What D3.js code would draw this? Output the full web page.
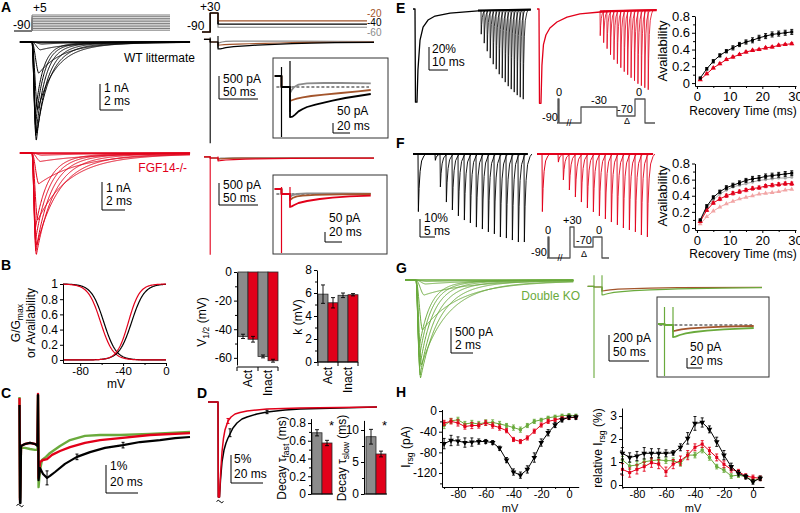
<!DOCTYPE html>
<html><head><meta charset="utf-8">
<script src="https://cdn.jsdelivr.net/npm/d3@7/dist/d3.min.js"></script>
<style>html,body{margin:0;padding:0;background:#fff;}svg{display:block;}</style>
</head><body>
<svg id="fig" width="800" height="513" xmlns="http://www.w3.org/2000/svg"></svg>
<script>
// ================= DATA =================
// A / G : step families
const testV=[-85,-75,-65,-55,-45,-35,-25,-15,-5,5];
const wtPeak=[0.03,0.08,0.3,1.2,2.6,3.5,3.8,3.6,3.2,2.8];          // nA
const koPeak=[0.03,0.08,0.3,1.1,2.4,3.3,3.64,3.5,3.1,2.7];         // nA
const dkoPeak=[30,80,300,1000,1700,1960,1900,1750,1550,1350];      // pA
const timeToPeak=[1.0,0.9,0.75,0.6,0.5,0.42,0.38,0.34,0.31,0.29];  // ms
const wtTau=[3.0,2.8,2.5,2.0,1.5,1.1,0.9,0.77,0.68,0.62];          // ms
const koTau=[5.0,4.6,4.2,3.4,2.6,1.9,1.5,1.28,1.15,1.04];
const dkoTau=[4.6,4.2,3.8,3.1,2.3,1.65,1.36,1.15,1.02,0.94];
// resurgent protocol levels
const resLevels=[-60,-40,-20];
// resurgent traces [ms after repolarization, pA]
const wtPre=[[-18,55],[-10,55],[-10,0],[0,0]];
const wtResGray=[[0,-30],[2,-15],[5,0],[10,12],[20,18],[40,20],[60,20],[95,18],[150,12],[200,8]];
const wtResBrown=[[0,-70],[3,-65],[8,-58],[15,-52],[25,-45],[40,-38],[60,-30],[80,-22],[95,-15],[120,-10],[150,-6],[200,-3]];
const wtResBlack=[[0,-150],[3,-148],[6,-138],[10,-122],[15,-110],[20,-100],[30,-88],[40,-78],[50,-68],[65,-55],[80,-45],[95,-35],[120,-25],[150,-15],[200,-8]];
const wtSpikes=[[-10,100,-2200],[0,130,-125]];
const koPre=[[-18,25],[-10,25],[-10,0],[0,0]];
const koResGray=[[0,-15],[3,-5],[8,0],[20,3],[60,3],[95,2],[200,0]];
const koResBrown=[[0,-30],[3,-20],[8,-12],[15,-8],[30,-4],[60,-2],[95,0],[200,0]];
const koResRed=[[0,-65],[2,-62],[5,-55],[10,-45],[20,-35],[35,-25],[50,-18],[70,-12],[95,-8],[150,-4],[200,-2]];
const koSpikes=[[-10,35,-2200],[0,35,-30]];
const dkoPre=[[-18,5],[-10,5],[-10,0],[0,0]];
const dkoResBrown=[[0,-30],[3,-28],[10,-22],[20,-17],[40,-12],[60,-8],[95,-5],[200,-2]];
const dkoResGreen=[[0,-60],[3,-58],[8,-50],[15,-42],[25,-35],[40,-28],[60,-22],[80,-18],[95,-15],[150,-8],[200,-5]];
const dkoSpikes=[[-10,90,-700],[0,90,-35]];
// B
const bFitV12=[-32,-35,-58,-61];   // act WT, act KO, inact WT, inact KO
const bFitK=[5.9,5.2,5.8,5.8];
const bCats=["Act WT","Act KO","Inact WT","Inact KO"];
const bGroups=["Act","Inact"];
const v12Mean=[-45,-47,-59,-62];
const v12Err=[1.5,2,1,1];
const kMean=[5.9,5.15,5.8,5.85];
const kErr=[0.8,0.45,0.2,0.1];
// C : normalized traces [ms, %]
const cBlack=[[-0.31,0.89],[0,-2.61],[0.31,-2.61],[0.63,-0.57],[3.1,-0.5],[6.25,-0.46],[9.4,-0.5],[10.9,-0.57],[11.25,1.25],[11.6,-1.79],[12.5,-1.36],[14.4,-1.57],[16.9,-1.71],[18.75,-1.64],[21.9,-1.5],[28.1,-1.21],[35.6,-0.96],[43.75,-0.79],[53.1,-0.64],[64.4,-0.54],[75,-0.43],[87.5,-0.36],[96.9,-0.29],[106.25,-0.25]];
const cRed=[[-0.31,1.14],[0,-2.5],[0.63,-0.57],[3.1,-0.5],[6.25,-0.46],[9.4,-0.5],[10.9,-0.54],[11.25,1.29],[11.6,-1.71],[12.5,-1.14],[14.4,-1.07],[16.9,-1.04],[20,-0.89],[25,-0.75],[31.25,-0.61],[40.6,-0.46],[50,-0.36],[62.5,-0.29],[81.25,-0.18],[106.25,-0.11]];
const cGreen=[[-0.31,1.18],[0,-2.43],[0.63,-0.64],[3.1,-0.64],[6.25,-0.68],[9.4,-0.71],[10.9,-0.71],[11.25,1.25],[11.6,-2.04],[12.5,-1.43],[13.75,-1.07],[16.25,-0.96],[18.75,-0.82],[25,-0.57],[31.25,-0.36],[40.6,-0.21],[50,-0.18],[62.5,-0.18],[81.25,-0.14],[106.25,-0.07]];
const cErrT=[16.9,35.6,64.4], cErrV=[-1.71,-0.96,-0.54], cErrE=[0.25,0.1,0.1];
// D
const dBlack=[[0,0.89],[6.25,0.89],[6.44,-16.07],[7.19,-16.07],[7.81,-13.04],[8.75,-9.82],[10,-7.68],[11.25,-6.43],[12.5,-5.54],[13.75,-4.82],[15.6,-3.75],[18.1,-2.86],[21.25,-2.14],[24.4,-1.79],[30.6,-1.25],[36.9,-0.89],[48.1,-0.54],[57.5,-0.36],[76.25,-0.23],[105.6,0]];
const dRed=[[0,0.89],[6.25,0.89],[6.44,-16.07],[7.19,-16.07],[7.81,-12.14],[8.75,-8.04],[9.69,-5.54],[10.6,-4.11],[12.5,-2.5],[14.4,-1.79],[16.9,-1.25],[20,-0.98],[24.4,-0.71],[30.6,-0.54],[36.9,-0.36],[57.5,-0.18],[105.6,0]];
const dErrBlack=[[13.75,-4.6,0.7],[36.9,-0.89,0.3]];
const dErrRed=[[12.5,-2.5,0.45]];
const tauCats=["WT","FGF14-/-"];
const tauFast=[0.69,0.575], tauFastErr=[0.035,0.03];
const tauSlow=[8.95,6.25], tauSlowErr=[1.15,0.45];
// E / F
const recT=[1,3,5,7,9,11,13,15,17,19,21,23,25,27,29];
const eAvBlack=[0.06,0.17,0.26,0.33,0.38,0.42,0.46,0.49,0.51,0.54,0.56,0.58,0.59,0.60,0.61];
const eAvBlackErr=[0.01,0.015,0.02,0.02,0.02,0.025,0.025,0.025,0.03,0.03,0.03,0.03,0.03,0.03,0.03];
const eAvRed=[0.04,0.11,0.18,0.23,0.28,0.31,0.34,0.37,0.39,0.40,0.42,0.43,0.45,0.46,0.47];
const eAvRedErr=[0.008,0.01,0.01,0.01,0.012,0.012,0.012,0.012,0.012,0.012,0.012,0.012,0.012,0.012,0.012];
const fAvBlack=[0.10,0.27,0.38,0.45,0.50,0.53,0.56,0.59,0.61,0.62,0.64,0.65,0.66,0.67,0.68];
const fAvBlackErr=[0.01,0.02,0.02,0.02,0.025,0.025,0.025,0.025,0.03,0.03,0.03,0.03,0.03,0.03,0.03];
const fAvGray=[0.08,0.25,0.35,0.42,0.47,0.51,0.53,0.55,0.57,0.59,0.60,0.61,0.62,0.62,0.63];
const fAvRed=[0.08,0.22,0.31,0.36,0.40,0.43,0.45,0.47,0.49,0.50,0.52,0.53,0.54,0.55,0.55];
const fAvRedErr=[0.01,0.015,0.015,0.02,0.02,0.02,0.02,0.02,0.02,0.02,0.02,0.02,0.02,0.02,0.02];
const fAvPink=[0.05,0.14,0.21,0.26,0.30,0.33,0.36,0.38,0.40,0.42,0.43,0.44,0.45,0.47,0.48];
const eRecBlack=[[0,0],[1.05,0],[1.3,-81],[2.1,-81],[2.6,-53],[3.7,-27],[5.3,-15.7],[7.9,-9.6],[11.6,-6.1],[19.5,-3.5],[34.2,-1.7],[45,-0.9],[62,-0.5]];
const eRecRed=[[0,0],[1.05,0],[1.3,-82],[2.1,-82],[2.6,-49],[3.4,-31],[4.7,-22.6],[6.8,-16.5],[10.5,-11.3],[15.8,-7],[22.6,-4.3],[33.2,-2.6],[45,-1.5],[63,-0.8]];
const eBlackDepth=[20.9,28.7,35.7,41.7,47,51.3,55.7,59.1,62.6,66.1,68.7,71.3,73.9,75.7,77.4];
const eRedDepth=[21.7,27.8,33,38.3,42.6,46.1,49.6,53,55.7,58.3,60.9,63.5,65.2,67,68.7];
const fBlackDepth=[18.3,26.7,31.1,34.4,36.7,38.3,40.6,41.7,43.3,44.4,46.1,46.7,47.8,48.9,48.9];
const fRedDepth=[14.4,20,23.9,26.7,30,32.2,34.4,36.1,37.8,39.4,41.1,42.2,43.3,45,46.1];
const fBlackPre=[[1.67,32],[7.33,3.5]];
const fRedPre=[[1.67,32],[7,4.5]];
const spikeShape=[[0,0],[0.12,-1],[0.35,-0.6],[0.7,-0.3],[1.2,-0.12],[2,-0.03],[2.6,0]];
const eProtoT=[0,1,1,2,2,24,24,60,60,78,78,88,88,98];
const eProtoV=[-90,-90,0,0,-90,-90,-30,-30,-70,-70,0,0,-90,-90];
const fProtoT=[0,1,1,2,2,23,23,27,27,46,46,55,55,62];
const fProtoV=[-90,-90,0,0,-90,-90,30,30,-70,-70,0,0,-90,-90];
// H
const hV=[-90,-85,-80,-75,-70,-65,-60,-55,-50,-45,-40,-35,-30,-25,-20,-15,-10,-5,0,5];
const hLBlack=[-63,-57,-58,-61,-60,-59,-59,-61,-72,-95,-118,-124,-113,-90,-61,-42,-27,-17,-12,-12];
const hLBlackErr=[10,10,8,9,8,5,4,4,4,5,6,6,7,9,7,6,5,4,4,4];
const hLRed=[-23,-20,-23,-30,-28,-28,-23,-28,-32,-38,-55,-59,-52,-39,-27,-20,-17,-14,-13,-12];
const hLRedErr=[5,5,6,5,6,5,5,5,5,4,4,4,4,4,4,4,3,3,3,3];
const hLGreen=[-28,-19,-17,-25,-23,-25,-22,-22,-25,-28,-32,-36,-28,-20,-17,-13,-11,-9,-8,-9];
const hLGreenErr=[6,5,5,5,5,5,5,5,5,4,5,5,4,4,3,3,3,3,3,3];
const hRBlack=[1.38,1.2,1.26,1.38,1.38,1.38,1.38,1.4,1.64,2.03,2.68,2.72,2.42,1.88,1.3,0.8,0.51,0.36,0.14,0.29];
const hRBlackErr=[0.25,0.2,0.2,0.25,0.2,0.2,0.15,0.1,0.15,0.25,0.3,0.2,0.15,0.2,0.2,0.15,0.12,0.1,0.1,0.1];
const hRRed=[0.68,0.54,0.68,0.8,0.97,0.91,0.58,0.91,1.06,1.3,1.64,1.78,1.49,1.2,0.9,0.68,0.58,0.39,0.33,0.29];
const hRRedErr=[0.25,0.2,0.2,0.2,0.2,0.2,0.2,0.2,0.2,0.2,0.15,0.15,0.15,0.15,0.15,0.12,0.1,0.1,0.1,0.1];
const hRGreen=[1.09,0.83,0.87,1.01,1.06,1.09,1.06,1.06,0.94,1.3,1.3,1.52,1.2,0.8,0.65,0.39,0.43,0.36,0.19,0.29];
const hRGreenErr=[0.15,0.15,0.15,0.12,0.12,0.12,0.12,0.12,0.12,0.12,0.12,0.12,0.12,0.1,0.1,0.1,0.1,0.08,0.08,0.08];

// ================= STYLE / HELPERS =================
const FONT='"Liberation Sans", Arial, Helvetica, sans-serif';
const COL={black:"#000000",red:"#e2001a",gray:"#8b8b8b",brown:"#a3552c",green:"#6aaa3c",pink:"#f2a5a5"};
const svg=d3.select("#fig").attr("font-family",FONT);
const defs=svg.append("defs");

function txt(x,y,parts,o={}){
  const fs=o.size||11;
  const t=svg.append("text").attr("x",x).attr("y",y).attr("font-size",fs).attr("fill",o.fill||"#000")
    .attr("text-anchor",o.anchor||"start");
  if(o.bold) t.attr("font-weight","bold");
  if(o.rot) t.attr("transform",`rotate(${o.rot},${x},${y})`);
  if(typeof parts==="string") parts=[[parts]];
  let sub=false;
  parts.forEach(p=>{
    const s=t.append("tspan").text(p[0]);
    if(p[1]){ s.attr("font-size",fs*0.72); if(!sub){s.attr("dy",fs*0.25);sub=true;} }
    else if(sub){ s.attr("dy",-fs*0.25); sub=false; }
  });
  return t;
}
function line(data,xs,ys,color,w,opt={}){
  const p=svg.append("path").datum(data)
    .attr("d",d3.line().x(d=>xs(d[0])).y(d=>ys(d[1])))
    .attr("fill","none").attr("stroke",color).attr("stroke-width",w||1)
    .attr("stroke-linejoin","round");
  if(opt.clip) p.attr("clip-path",`url(#${opt.clip})`);
  if(opt.dash) p.attr("stroke-dasharray",opt.dash);
  return p;
}
function scaleBar(x,yb,w,h,l1,l2,lx,ly1,ly2){
  svg.append("path").attr("d",`M${x},${yb-h}V${yb}H${x+w}`).attr("fill","none").attr("stroke","#000").attr("stroke-width",1);
  txt(lx,ly1,l1,{size:12}); txt(lx,ly2,l2,{size:12});
}
function styleAxis(g,fs){
  g.attr("font-family",FONT).attr("font-size",fs);
  g.selectAll("line,path").attr("stroke","#000");
  g.selectAll("text").attr("fill","#000");
}
function axisL(x,scale,major,minor,fs,fmt){
  const g=svg.append("g").attr("transform",`translate(${x},0)`)
    .call(d3.axisLeft(scale).tickValues(major).tickSize(3).tickSizeOuter(0).tickPadding(2).tickFormat(fmt||(d=>String(d))));
  styleAxis(g,fs||11);
  if(minor&&minor.length){
    const m=svg.append("g").attr("transform",`translate(${x},0)`)
      .call(d3.axisLeft(scale).tickValues(minor).tickSize(2).tickSizeOuter(0).tickFormat(()=>""));
    m.select(".domain").remove(); styleAxis(m,fs||11);
  }
  return g;
}
function axisB(y,scale,major,minor,fs,pad){
  const g=svg.append("g").attr("transform",`translate(0,${y})`)
    .call(d3.axisBottom(scale).tickValues(major).tickSize(3).tickSizeOuter(0).tickPadding(pad==null?2:pad).tickFormat(d=>String(d)));
  styleAxis(g,fs||11);
  if(minor&&minor.length){
    const m=svg.append("g").attr("transform",`translate(0,${y})`)
      .call(d3.axisBottom(scale).tickValues(minor).tickSize(2).tickSizeOuter(0).tickFormat(()=>""));
    m.select(".domain").remove(); styleAxis(m,fs||11);
  }
  return g;
}
function clipRect(id,x,y,w,h){
  defs.append("clipPath").attr("id",id).append("rect").attr("x",x).attr("y",y).attr("width",w).attr("height",h);
}
function box(x,y,w,h){
  svg.append("rect").attr("x",x).attr("y",y).attr("width",w).attr("height",h).attr("fill","none").attr("stroke","#333").attr("stroke-width",1);
}
function naShape(t,tp,tau){
  if(t<=0) return 0;
  if(t<tp){const u=t/tp; return u*u*(3-2*u);}
  const d=t-tp; return 0.88*Math.exp(-d/tau)+0.12*Math.exp(-d/(3*tau));
}
function errBar(x,y1,y2,color,cap,w){
  svg.append("path").attr("d",`M${x},${y1}V${y2}M${x-cap},${y1}H${x+cap}M${x-cap},${y2}H${x+cap}`)
    .attr("stroke",color).attr("stroke-width",w||0.9).attr("fill","none");
}
function tilde(x,y){
  svg.append("path").attr("d",`M${x-3.5},${y+0.5}q1.75,-2.5 3.5,0t3.5,0`).attr("fill","none").attr("stroke","#000").attr("stroke-width",1);
}
function panelLabel(x,y,s){ txt(x,y,s,{size:14,bold:true}); }

// ================= PANEL A =================
panelLabel(1,12,"A");
const tA=d3.range(-1.05,13.76,0.03);
const xA=d3.scaleLinear().domain([0,1]).range([32,43.5]);
const yWT=d3.scaleLinear().domain([0,-1]).range([42,68]);
const yProtoA=d3.scaleLinear().domain([-90,5]).range([31,15]);
testV.forEach(v=>line([[-1.56,-90],[0,-90],[0,v],[12,v]],xA,yProtoA,"#7a7a7a",1));
line([[-1.56,-90],[0,-90]],xA,yProtoA,"#7a7a7a",1.5);
txt(33,12,"+5",{size:12}); txt(13,29,"-90",{size:12});
testV.forEach((v,i)=>line(tA.map(t=>[t,-wtPeak[i]*naShape(t,timeToPeak[i],wtTau[i])]),xA,yWT,COL.black,1));
line([[-1.05,0],[13.75,0]],xA,yWT,COL.black,1.6);
txt(195,62,"WT littermate",{size:12,anchor:"end"});
scaleBar(100,110,xA(2)-xA(0),yWT(-1)-yWT(0),"1 nA","2 ms",104,92,105);

const yKO=d3.scaleLinear().domain([0,-1]).range([153,181]);
testV.forEach((v,i)=>line(tA.map(t=>[t,-koPeak[i]*naShape(t,timeToPeak[i],koTau[i])]),xA,yKO,COL.red,1));
line([[-1.05,0],[13.75,0]],xA,yKO,COL.red,1.6);
txt(187,172,"FGF14-/-",{size:12,anchor:"end",fill:COL.red});
scaleBar(102,210,xA(2)-xA(0),yKO(-1)-yKO(0),"1 nA","2 ms",106,192,205);

// resurgent protocol (WT)
const xR=d3.scaleLinear().domain([0,1]).range([218,218.78]);
const yPR=d3.scaleLinear().domain([-90,30]).range([32,13]);
const lvlColor={"-20":COL.brown,"-40":COL.black,"-60":COL.gray};
resLevels.forEach(l=>line([[-20.5,-90],[-10,-90],[-10,30],[0,30],[0,l],[191,l]],xR,yPR,lvlColor[String(l)],1.2));
line([[-20.5,-90],[-10,-90],[-10,30],[0,30],[0,-40]],xR,yPR,COL.black,1.2);
txt(200,11,"+30",{size:12}); txt(187,30,"-90",{size:12});
txt(367,16.5,"-20",{size:10,fill:COL.brown}); txt(367,26,"-40",{size:10}); txt(367,35.5,"-60",{size:10,fill:COL.gray});

function resurgentPanel(cfg){
  cfg.traces.forEach(tr=>line(cfg.pre.concat(tr.data),cfg.xM,cfg.yM,tr.color,1.2));
  cfg.spikes.forEach(s=>line([[s[0],s[1]],[s[0],s[2]]],cfg.xM,cfg.yM,cfg.spikeColor,1.1));
  box(cfg.box[0],cfg.box[1],cfg.box[2],cfg.box[3]);
  clipRect(cfg.id,cfg.box[0]+1,cfg.box[1]+1,cfg.box[2]-2,cfg.box[3]-2);
  line([[-16,0],[93,0]],cfg.xI,cfg.yI,"#000",0.9,{dash:"3,2",clip:cfg.id});
  cfg.traces.forEach(tr=>line(cfg.pre.concat(tr.data.filter(d=>d[0]<=97)),cfg.xI,cfg.yI,tr.color,1.8,{clip:cfg.id}));
  cfg.spikes.forEach(s=>line([[s[0],s[1]],[s[0],s[2]]],cfg.xI,cfg.yI,cfg.spikeColor,1.2,{clip:cfg.id}));
}
resurgentPanel({id:"clipWT",pre:wtPre,
  traces:[{data:wtResGray,color:COL.gray},{data:wtResBrown,color:COL.brown},{data:wtResBlack,color:COL.black}],
  spikes:wtSpikes,spikeColor:COL.black,
  xM:xR,yM:d3.scaleLinear().domain([0,-500]).range([42,65]),
  box:[273,58,115,80],
  xI:d3.scaleLinear().domain([0,1]).range([290,290.85]),yI:d3.scaleLinear().domain([0,-50]).range([87,97])});
scaleBar(219,99,39,23,"500 pA","50 ms",223,83,96);
scaleBar(333,133,17,10,"50 pA","20 ms",337,115,130);

resurgentPanel({id:"clipKO",pre:koPre,
  traces:[{data:koResGray,color:COL.gray},{data:koResBrown,color:COL.brown},{data:koResRed,color:COL.red}],
  spikes:koSpikes,spikeColor:COL.red,
  xM:xR,yM:d3.scaleLinear().domain([0,-500]).range([158,180]),
  box:[273,175,114,79],
  xI:d3.scaleLinear().domain([0,1]).range([290,290.85]),yI:d3.scaleLinear().domain([0,-50]).range([194,204])});
scaleBar(219,205,39,22,"500 pA","50 ms",223,189,202);
scaleBar(325,242,17,10,"50 pA","20 ms",329,222,236);

// ================= PANEL B =================
panelLabel(1,270,"B");
const xBo=d3.scaleLinear().domain([-96,0]).range([63,166]);
const yBo=d3.scaleLinear().domain([-0.04,1]).range([363,284]);
const vB=d3.range(-96,0.01,0.5);
[[2,COL.black,-1],[3,COL.red,-1],[0,COL.black,1],[1,COL.red,1]].forEach(([i,c,s])=>{
  line(vB.map(v=>[v,1/(1+Math.exp(s*(bFitV12[i]-v)/bFitK[i]))]),xBo,yBo,c,1.2);
});
axisL(63,yBo,[0,0.2,0.4,0.6,0.8,1],null,12);
axisB(363,xBo,[-80,-40,0],[-60,-20],11.5,1);
txt(116,387.5,"mV",{size:12,anchor:"middle"});
txt(20,323,[["G/G"],["max",1]],{size:12,anchor:"middle",rot:-90});
txt(35,323,"or Availability",{size:12,anchor:"middle",rot:-90});

function barChart(cats,vals,errs,colors,xb,ys,axisX,major,minor){
  cats.forEach((c,i)=>{
    const yv=ys(vals[i]),yz=ys(0);
    svg.append("rect").attr("x",xb(c)).attr("y",Math.min(yv,yz)).attr("width",xb.bandwidth())
      .attr("height",Math.abs(yv-yz)).attr("fill",colors[i]).attr("stroke","#2a2a2a").attr("stroke-width",0.8);
    const cx=xb(c)+xb.bandwidth()/2;
    errBar(cx,ys(vals[i]-errs[i]),ys(vals[i]+errs[i]),"#000",2,0.9);
  });
  axisL(axisX,ys,major,minor,12);
}
const barCol=[COL.gray,COL.red,COL.gray,COL.red];
const xV=d3.scaleBand().domain(bCats).range([238,278]).padding(0);
const yV=d3.scaleLinear().domain([0,-65]).range([272,365]);
barChart(bCats,v12Mean,v12Err,barCol,xV,yV,237,[0,-20,-40,-60],[-10,-30,-50]);
const gScaleV=d3.scaleBand().domain(bGroups).range([238,278]);
svg.append("path").attr("d",`M237,367H278`).attr("stroke","#000");
[237,258,278].forEach(x=>svg.append("path").attr("d",`M${x},367v4`).attr("stroke","#000"));
bGroups.forEach(g=>txt(gScaleV(g)+gScaleV.bandwidth()/2+4,370,g,{size:12,anchor:"end",rot:-90}));
txt(206,322,[["V"],["1/2",1],[" (mV)"]],{size:12,anchor:"middle",rot:-90});

const xK=d3.scaleBand().domain(bCats).range([318,358]).padding(0);
const yK=d3.scaleLinear().domain([0,8]).range([362,270]);
barChart(bCats,kMean,kErr,barCol,xK,yK,317,[0,2,4,6,8],[1,3,5,7]);
const gScaleK=d3.scaleBand().domain(bGroups).range([318,358]);
svg.append("path").attr("d",`M317,362H358`).attr("stroke","#000");
[318,338,358].forEach(x=>svg.append("path").attr("d",`M${x},362v4`).attr("stroke","#000"));
bGroups.forEach(g=>txt(gScaleK(g)+gScaleK.bandwidth()/2+4,367,g,{size:12,anchor:"end",rot:-90}));
txt(302,317,"k (mV)",{size:12,anchor:"middle",rot:-90});

// ================= PANEL C =================
panelLabel(1,398,"C");
const xC=d3.scaleLinear().domain([0,1]).range([20,21.6]);
const yC=d3.scaleLinear().domain([0,-1]).range([430,458]);
line(cGreen,xC,yC,COL.green,2.4);
line(cRed,xC,yC,COL.red,2.4);
line(cBlack,xC,yC,COL.black,2.2);
cErrT.forEach((t,i)=>errBar(xC(t),yC(cErrV[i]-cErrE[i]),yC(cErrV[i]+cErrE[i]),"#000",1.5,1));
tilde(20,505);
scaleBar(106,493,xC(20)-xC(0),yC(-1)-yC(0),"1%","20 ms",110,470,486);

// ================= PANEL D =================
panelLabel(197,398,"D");
const xD=d3.scaleLinear().domain([0,1]).range([208,209.6]);
const yD=d3.scaleLinear().domain([0,-5]).range([407,435]);
line(dBlack,xD,yD,COL.black,1.5);
line(dRed,xD,yD,COL.red,1.5);
dErrBlack.forEach(e=>errBar(xD(e[0]),yD(e[1]-e[2]),yD(e[1]+e[2]),"#000",1.5,1));
dErrRed.forEach(e=>errBar(xD(e[0]),yD(e[1]-e[2]),yD(e[1]+e[2]),COL.red,1.5,1));
tilde(220,501);
scaleBar(231,483,xD(20)-xD(0),yD(-5)-yD(0),"5%","20 ms",234,463,478);
const xTf=d3.scaleBand().domain(tauCats).range([312,332]);
const yTf=d3.scaleLinear().domain([0,0.85]).range([494,418.6]);
barChart(tauCats,tauFast,tauFastErr,[COL.gray,COL.red],xTf,yTf,311,[0,0.2,0.4,0.6,0.8],[0.1,0.3,0.5,0.7]);
svg.append("path").attr("d","M311,494H333").attr("stroke","#000");
txt(329,430,"*",{size:13});
txt(286,458,[["Decay τ"],["fast",1],[" (ms)"]],{size:12,anchor:"middle",rot:-90});
const xTs=d3.scaleBand().domain(tauCats).range([366,386]);
const yTs=d3.scaleLinear().domain([0,11.5]).range([494,420.4]);
barChart(tauCats,tauSlow,tauSlowErr,[COL.gray,COL.red],xTs,yTs,364,[0,5,10],[2.5,7.5]);
svg.append("path").attr("d","M364,494H387").attr("stroke","#000");
txt(382,430,"*",{size:13});
txt(346,458,[["Decay τ"],["slow",1],[" (ms)"]],{size:12,anchor:"middle",rot:-90});

// ================= PANEL E =================
panelLabel(396,13,"E");
const eX=d3.scaleLinear().domain([0,1]).range([413,414.9]);
const eXr=d3.scaleLinear().domain([0,1]).range([537,538.9]);
const eY=d3.scaleLinear().domain([0,-20]).range([9,32]);
const eSpX=d3.scaleLinear().domain([1,29]).range([481,523]);
const eSpXr=d3.scaleLinear().domain([1,29]).range([600,648]);
function spikes(depths,posScale,xs,ys,color,base,w){
  depths.forEach((dep,i)=>{
    const x0=posScale(recT[i]);
    svg.append("path").datum(spikeShape)
      .attr("d",d3.line().x(d=>x0+xs(d[0])-xs(0)).y(d=>ys(base+d[1]*dep)))
      .attr("fill","none").attr("stroke",color).attr("stroke-width",w||0.8);
  });
}
line(eRecBlack,eX,eY,COL.black,1.3);
spikes(eBlackDepth,eSpX,eX,eY,COL.black,-1,0.8);
line([[34.2,-1.3],[62,-0.6]],eX,eY,COL.black,2.2);
line(eRecRed,eXr,eY,COL.red,1.3);
spikes(eRedDepth,eSpXr,eXr,eY,COL.red,-1.5,0.8);
line([[33.2,-2],[63,-0.9]],eXr,eY,COL.red,2.2);
scaleBar(429,70,eX(10)-eX(0),eY(-20)-eY(0),"20%","10 ms",432,53,66);
const epX=d3.scaleLinear().domain([0,98]).range([557,655]);
const epY=d3.scaleLinear().domain([-90,-70,-30,0]).range([123,116,107,99]);
line(eProtoT.map((t,i)=>[t,eProtoV[i]]),epX,epY,"#555",1.3);
txt(542,121,"-90",{size:11}); txt(556,96,"0",{size:11}); txt(591,104,"-30",{size:11});
txt(617,113,"-70",{size:11}); txt(636,96,"0",{size:11});
txt(627,124,"Δ",{size:9,anchor:"middle"});
txt(569,126,"//",{size:9,anchor:"middle"});
const xAv=d3.scaleLinear().domain([-0.6,30.3]).range([695,796]);
const yAvE=d3.scaleLinear().domain([-0.035,0.8]).range([86,16]);
function availPlot(xs,ys,series){
  series.forEach(s=>{
    line(recT.map((t,i)=>[t,s.v[i]]),xs,ys,s.color,1);
    if(s.e) recT.forEach((t,i)=>errBar(xs(t),ys(s.v[i]-s.e[i]),ys(s.v[i]+s.e[i]),s.color,1.5,0.9));
    recT.forEach((t,i)=>svg.append("path").attr("d",d3.symbol().type(s.sym).size(s.size)())
      .attr("transform",`translate(${xs(t)},${ys(s.v[i])})`).attr("fill",s.color));
  });
}
availPlot(xAv,yAvE,[{v:eAvRed,e:eAvRedErr,color:COL.red,sym:d3.symbolTriangle,size:12},
                    {v:eAvBlack,e:eAvBlackErr,color:COL.black,sym:d3.symbolSquare,size:9}]);
axisL(695,yAvE,[0,0.2,0.4,0.6,0.8],[0.1,0.3,0.5,0.7],13);
axisB(86,xAv,[0,10,20,30],[5,15,25],13,3);
txt(667,51,"Availability",{size:13,anchor:"middle",rot:-90});
txt(743,115,"Recovery Time (ms)",{size:12,anchor:"middle"});

// ================= PANEL F =================
panelLabel(396,148,"F");
const fX=d3.scaleLinear().domain([0,1]).range([413,416]);
const fXr=d3.scaleLinear().domain([0,1]).range([537,540]);
const fY=d3.scaleLinear().domain([0,-10]).range([154,172]);
const fSpX=d3.scaleLinear().domain([0,1]).range([fX(8),fX(9)]);
const fSpXr=d3.scaleLinear().domain([0,1]).range([fXr(7.67),fXr(8.67)]);
function preSpikes(list,xs,ys,color){
  list.forEach(p=>{
    svg.append("path").datum(spikeShape)
      .attr("d",d3.line().x(d=>xs(p[0]+d[0])).y(d=>ys(d[1]*p[1])))
      .attr("fill","none").attr("stroke",color).attr("stroke-width",1);
  });
}
line([[0,0],[38.3,0]],fX,fY,COL.black,1.8);
preSpikes(fBlackPre,fX,fY,COL.black);
spikes(fBlackDepth,fSpX,fX,fY,COL.black,0,0.9);
line([[0,0],[38.7,0]],fXr,fY,COL.red,1.8);
preSpikes(fRedPre,fXr,fY,COL.red);
spikes(fRedDepth,fSpXr,fXr,fY,COL.red,0,0.9);
scaleBar(420,237,fX(5)-fX(0),fY(-10)-fY(0),"10%","5 ms",424,222,235);
const fpX=d3.scaleLinear().domain([0,62]).range([547,609]);
const fpY=d3.scaleLinear().domain([-90,-70,0,30]).range([258,247,237,227]);
line(fProtoT.map((t,i)=>[t,fProtoV[i]]),fpX,fpY,"#555",1.3);
txt(531,256,"-90",{size:11}); txt(545,234,"0",{size:11}); txt(563,224,"+30",{size:11});
txt(576,244,"-70",{size:11}); txt(584,257,"Δ",{size:9,anchor:"middle"}); txt(596,234,"0",{size:11});
txt(560,261,"//",{size:9,anchor:"middle"});
const yAvF=d3.scaleLinear().domain([-0.025,0.8]).range([230,163.5]);
availPlot(xAv,yAvF,[{v:fAvPink,color:COL.pink,sym:d3.symbolTriangle,size:10},
                    {v:fAvGray,color:"#a8a8a8",sym:d3.symbolCircle,size:8},
                    {v:fAvRed,e:fAvRedErr,color:COL.red,sym:d3.symbolTriangle,size:12},
                    {v:fAvBlack,e:fAvBlackErr,color:COL.black,sym:d3.symbolSquare,size:9}]);
axisL(695,yAvF,[0,0.2,0.4,0.6,0.8],[0.1,0.3,0.5,0.7],13);
axisB(230,xAv,[0,10,20,30],[5,15,25],13,3);
txt(667,196,"Availability",{size:13,anchor:"middle",rot:-90});
txt(743,258,"Recovery Time (ms)",{size:12,anchor:"middle"});

// ================= PANEL G =================
panelLabel(396,273,"G");
const tG=d3.range(-1,14.3,0.03);
const xG=d3.scaleLinear().domain([0,1]).range([416,427]);
const yG=d3.scaleLinear().domain([0,-500]).range([280,305]);
testV.forEach((v,i)=>line(tG.map(t=>[t,-dkoPeak[i]*naShape(t,timeToPeak[i],dkoTau[i])]),xG,yG,COL.green,1));
line([[-1,0],[14.3,0]],xG,yG,COL.green,1.6);
txt(580,300,"Double KO",{size:12,anchor:"end",fill:COL.green});
scaleBar(451,353,xG(2)-xG(0),yG(-500)-yG(0),"500 pA","2 ms",455,336,349);
resurgentPanel({id:"clipDKO",pre:dkoPre,
  traces:[{data:dkoResBrown,color:COL.brown},{data:dkoResGreen,color:COL.green}],
  spikes:dkoSpikes,spikeColor:COL.green,
  xM:d3.scaleLinear().domain([0,1]).range([602,602.8]),yM:d3.scaleLinear().domain([0,-200]).range([287,313]),
  box:[657,297,112,80],
  xI:d3.scaleLinear().domain([0,1]).range([673,673.85]),yI:d3.scaleLinear().domain([0,-50]).range([325,335])});
scaleBar(609,361,40,26,"200 pA","50 ms",613,342,356);
scaleBar(687,368,15,10,"50 pA","20 ms",690,351,365);

// ================= PANEL H =================
panelLabel(396,397,"H");
function ivPlot(xs,ys,series){
  series.forEach(s=>{
    line(hV.map((v,i)=>[v,s.v[i]]),xs,ys,s.color,1);
    hV.forEach((v,i)=>errBar(xs(v),ys(s.v[i]-s.e[i]),ys(s.v[i]+s.e[i]),s.color,1.5,0.9));
    hV.forEach((v,i)=>svg.append("path").attr("d",d3.symbol().type(s.sym).size(s.size)())
      .attr("transform",`translate(${xs(v)},${ys(s.v[i])})${s.rot?" rotate(180)":""}`).attr("fill",s.color));
  });
}
const xHL=d3.scaleLinear().domain([-91.5,7]).range([442,578.7]);
const yHL=d3.scaleLinear().domain([-147,3]).range([487,409.5]);
ivPlot(xHL,yHL,[{v:hLGreen,e:hLGreenErr,color:COL.green,sym:d3.symbolCircle,size:10},
                {v:hLRed,e:hLRedErr,color:COL.red,sym:d3.symbolSquare,size:9},
                {v:hLBlack,e:hLBlackErr,color:COL.black,sym:d3.symbolTriangle,size:14,rot:true}]);
axisL(442,yHL,[0,-40,-80,-120],[-20,-60,-100,-140],12);
axisB(487,xHL,[-80,-60,-40,-20,0],[-90,-70,-50,-30,-10],11,0);
txt(510,511.5,"mV",{size:11,anchor:"middle"});
txt(410,447,[["I"],["rsg",1],[" (pA)"]],{size:12,anchor:"middle",rot:-90});
const xHR=d3.scaleLinear().domain([-90.3,7.6]).range([622,764]);
const yHR=d3.scaleLinear().domain([-0.087,3.35]).range([487,408]);
ivPlot(xHR,yHR,[{v:hRGreen,e:hRGreenErr,color:COL.green,sym:d3.symbolCircle,size:10},
                {v:hRRed,e:hRRedErr,color:COL.red,sym:d3.symbolSquare,size:9},
                {v:hRBlack,e:hRBlackErr,color:COL.black,sym:d3.symbolTriangle,size:14,rot:true}]);
axisL(622,yHR,[0,1,2,3],[0.5,1.5,2.5],12);
axisB(487,xHR,[-80,-60,-40,-20,0],[-90,-70,-50,-30,-10],11,0);
txt(693,511.5,"mV",{size:11,anchor:"middle"});
txt(602,448,[["relative I"],["rsg",1],[" (%)"]],{size:12,anchor:"middle",rot:-90});
</script>
</body></html>
